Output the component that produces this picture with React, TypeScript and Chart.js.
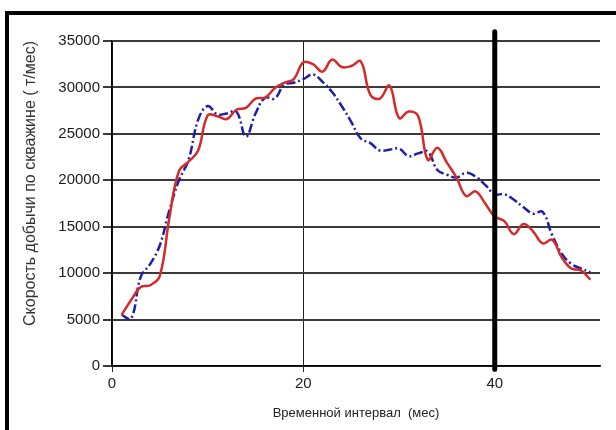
import React, { useEffect, useRef } from "react";
import { Chart, registerables } from "chart.js";

Chart.register(...registerables);

// Months (x values)
const months = [
  1, 2, 3, 4, 5, 6, 7, 8, 9, 10, 11, 12, 13, 14, 15, 16, 17, 18, 19, 20, 21, 22, 23, 24, 25,
  26, 27, 28, 29, 30, 31, 32, 33, 34, 35, 36, 37, 38, 39, 40, 41, 42, 43, 44, 45, 46, 47, 48, 49, 50,
];

// Red solid series (t/month)
const redValues = [
  5500, 7100, 8500, 8700, 9700, 16000, 21000, 22000, 23200, 27000,
  26900, 26600, 27600, 27800, 28800, 28900, 29900, 30500, 30900, 32700,
  32500, 31700, 33000, 32200, 32300, 32800, 29200, 28800, 30200, 26700,
  27400, 26900, 22200, 23500, 21900, 20300, 18300, 18800, 17500, 16100,
  15600, 14200, 15300, 14500, 13200, 13600, 11700, 10500, 10300, 9300,
];

// Blue dash-dot series (t/month)
const blueValues = [
  5500, 5100, 9600, 11000, 13000, 16800, 20000, 22200, 26500, 28000,
  27100, 27200, 27400, 24700, 27200, 28900, 28800, 30300, 30500, 30900,
  31400, 30600, 29500, 28000, 26300, 24500, 24000, 23200, 23300, 23400,
  22600, 22900, 23100, 21100, 20600, 20300, 20800, 20400, 19500, 18500,
  18500, 17900, 17100, 16400, 16600, 14100, 12100, 11000, 10500, 10100,
];

// Vertical marker at month 40
const markerMonth = 40;
const markerSpan = [-350, 36000];

// Axis ranges and ticks
const xMin = 0;
const xMax = 51;
const xStep = 20;
const yMin = 0;
const yMax = 35000;
const yStep = 5000;

const xTitle = "Временной интервал  (мес)";
const yTitle = "Скорость добычи по скважине ( т/мес)";

const FONT = "'Liberation Sans', Arial, sans-serif";

export default function App() {
  const ref = useRef<HTMLCanvasElement>(null);

  useEffect(() => {
    if (!ref.current) return;
    const chart = new Chart(ref.current, {
      type: "line",
      data: {
        datasets: [
          {
            label: "marker",
            data: markerSpan.map((y) => ({ x: markerMonth, y })),
            borderColor: "#000000",
            borderWidth: 5,
            pointRadius: 0,
            tension: 0,
            clip: false as any,
            borderCapStyle: "round",
          },
          {
            label: "red",
            data: months.map((m, i) => ({ x: m, y: redValues[i] })),
            borderColor: "#d42a2a",
            borderWidth: 2.5,
            pointRadius: 0,
            tension: 0.4,
            fill: false,
          },
          {
            label: "blue",
            data: months.map((m, i) => ({ x: m, y: blueValues[i] })),
            borderColor: "#1e1ea8",
            borderWidth: 2.5,
            borderDash: [9, 3, 2, 3],
            pointRadius: 0,
            tension: 0.4,
            fill: false,
          },
        ],
      },
      options: {
        responsive: false,
        animation: false,
        layout: { padding: { left: 8, right: 16, top: 41, bottom: 6 } },
        plugins: {
          legend: { display: false },
          tooltip: { enabled: false },
        },
        scales: {
          x: {
            type: "linear",
            min: xMin,
            max: xMax,
            afterFit: (s: any) => {
              s.height = 58;
            },
            ticks: {
              stepSize: xStep,
              includeBounds: false,
              color: "#1a1a1a",
              padding: 3,
              callback: (v: any) => String(v),
              font: { family: FONT, size: 15 },
            },
            grid: {
              color: "#222222",
              lineWidth: 1,
              tickLength: 6,
            },
            border: { color: "#000000", width: 1.5 },
            title: {
              display: true,
              text: xTitle,
              color: "#222222",
              padding: { top: 0, bottom: 3 },
              font: { family: FONT, size: 13 },
            },
          },
          y: {
            type: "linear",
            min: yMin,
            max: yMax,
            afterFit: (s: any) => {
              s.width = 104;
            },
            ticks: {
              stepSize: yStep,
              color: "#1a1a1a",
              padding: 3,
              callback: (v: any) => String(v),
              font: { family: FONT, size: 15 },
            },
            grid: {
              color: "#3a3a3a",
              lineWidth: 2,
              tickLength: 9,
            },
            border: { color: "#000000", width: 1.5 },
            title: {
              display: true,
              text: yTitle,
              align: "end",
              color: "#333333",
              padding: { top: 13, bottom: 0 },
              font: { family: FONT, size: 16 },
            },
          },
        },
      },
    } as any);
    return () => chart.destroy();
  }, []);

  return (
    <div>
      <div
        style={{
          position: "fixed",
          left: 5,
          top: 11,
          width: 700,
          height: 500,
          border: "4px solid #000",
          boxSizing: "border-box",
          background: "#fff",
        }}
      />
      <canvas
        ref={ref}
        width={616}
        height={430}
        style={{ position: "fixed", left: 0, top: 0, width: 616, height: 430 }}
      />
    </div>
  );
}
